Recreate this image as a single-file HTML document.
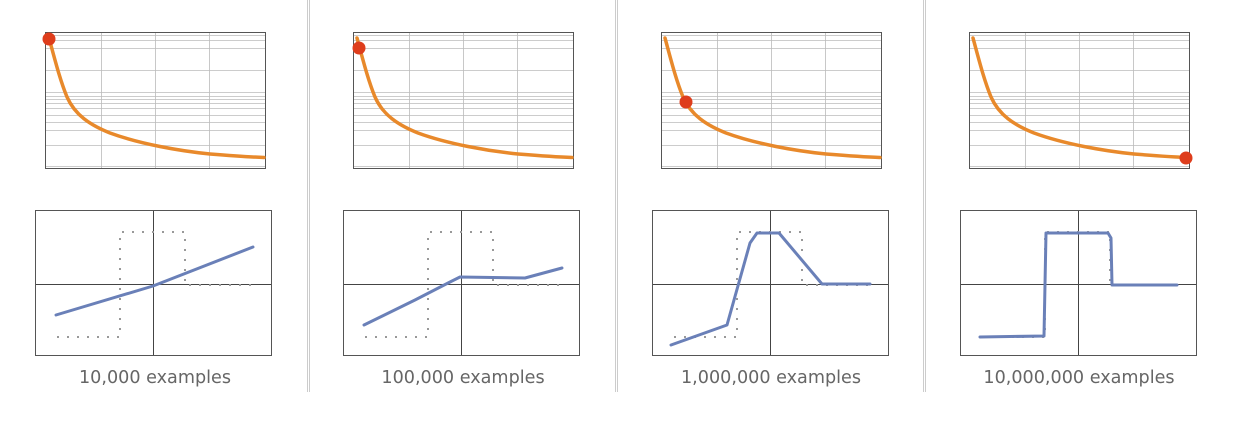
<!DOCTYPE html>
<html><head><meta charset="utf-8"><style>
html,body{margin:0;padding:0;background:#fff;}
svg{display:block;}
text{font-family:"DejaVu Sans","Liberation Sans",sans-serif;font-size:17.6px;fill:#666;}
</style></head><body>
<svg width="1238" height="426" viewBox="0 0 1238 426" xmlns="http://www.w3.org/2000/svg">
<defs>
<g id="top">
  <rect x="45.5" y="32.5" width="220" height="136" fill="#fff" stroke="#555" stroke-width="1"/>
  <g stroke="#c8c8c8" stroke-width="1">
    <line x1="101.5" y1="33" x2="101.5" y2="168"/><line x1="155.5" y1="33" x2="155.5" y2="168"/><line x1="209.5" y1="33" x2="209.5" y2="168"/>
  </g>
  <g stroke="#bbb" stroke-width="0.8">
    <line x1="46" x2="265" y1="35.5" y2="35.5"/><line x1="46" x2="265" y1="40.5" y2="40.5"/><line x1="46" x2="265" y1="48.5" y2="48.5"/>
    <line x1="46" x2="265" y1="70.5" y2="70.5"/><line x1="46" x2="265" y1="92.5" y2="92.5"/><line x1="46" x2="265" y1="96.5" y2="96.5"/>
    <line x1="46" x2="265" y1="99.5" y2="99.5"/><line x1="46" x2="265" y1="103.5" y2="103.5"/><line x1="46" x2="265" y1="108.5" y2="108.5"/>
    <line x1="46" x2="265" y1="115.5" y2="115.5"/><line x1="46" x2="265" y1="122.5" y2="122.5"/><line x1="46" x2="265" y1="130.5" y2="130.5"/>
    <line x1="46" x2="265" y1="145.5" y2="145.5"/><line x1="46" x2="265" y1="166.5" y2="166.5"/>
  </g>
  <path d="M49,38 C55,60 60,80 67,97 C75,115 90,125 110,133 C140,144 180,151 210,154 C235,156 250,157 264,157.5" fill="none" stroke="#e8892b" stroke-width="3.5" stroke-linecap="round"/>
</g>
<g id="bot">
  <rect x="35.5" y="210.5" width="236" height="145" fill="#fff" stroke="#555" stroke-width="1"/>
  <line x1="153.5" y1="211" x2="153.5" y2="355" stroke="#444" stroke-width="1"/>
  <line x1="36" y1="284.5" x2="271" y2="284.5" stroke="#444" stroke-width="1"/>
  <path d="M57,337 H120 V232 H185 V285 H255" fill="none" stroke="#999" stroke-width="2" stroke-dasharray="2,8"/>
</g>
</defs>
<g stroke="#ccc" stroke-width="1">
  <line x1="307.5" y1="0" x2="307.5" y2="392"/><line x1="309.5" y1="0" x2="309.5" y2="392"/>
  <line x1="615.5" y1="0" x2="615.5" y2="392"/><line x1="617.5" y1="0" x2="617.5" y2="392"/>
  <line x1="923.5" y1="0" x2="923.5" y2="392"/><line x1="925.5" y1="0" x2="925.5" y2="392"/>
</g>
<use href="#top"/><use href="#top" x="308"/><use href="#top" x="616"/><use href="#top" x="924"/>
<use href="#bot"/><use href="#bot" x="308"/><use href="#bot" x="617"/><use href="#bot" x="925"/>
<g fill="none" stroke="#6a80b8" stroke-width="3" stroke-linejoin="round" stroke-linecap="round">
  <polyline points="56,315 153,286 253,247"/>
  <polyline points="364,325 415,300 450,282 460,277 525,278 562,268"/>
  <polyline points="671,345 727,325 750,243 757,233 779,233 822,284 870,284"/>
  <polyline points="980,337 1044,336 1046,233 1108,233 1111,238 1112,285 1177,285"/>
</g>
<g fill="#de3d1c">
  <circle cx="49" cy="39" r="6.5"/>
  <circle cx="359" cy="48" r="6.5"/>
  <circle cx="686" cy="102" r="6.5"/>
  <circle cx="1186" cy="158" r="6.5"/>
</g>
<text x="155" y="383" text-anchor="middle">10,000 examples</text>
<text x="463" y="383" text-anchor="middle">100,000 examples</text>
<text x="771" y="383" text-anchor="middle">1,000,000 examples</text>
<text x="1079" y="383" text-anchor="middle">10,000,000 examples</text>
</svg>
</body></html>
